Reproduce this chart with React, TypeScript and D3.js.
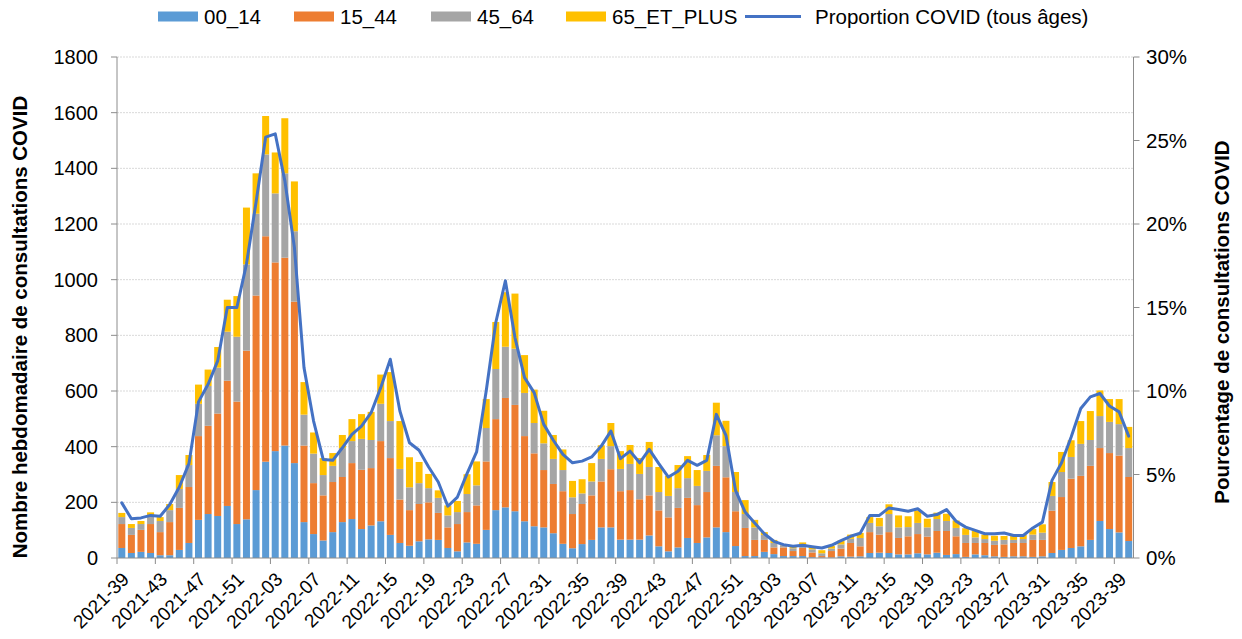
import React from "react";
import * as d3 from "d3";

// week categories 2021-39 .. 2023-40
const weekRanges: [number, number, number][] = [
  [2021, 39, 52],
  [2022, 1, 52],
  [2023, 1, 40],
];
const weeks: string[] = [];
weekRanges.forEach(([y, a, b]) => {
  for (let w = a; w <= b; w++) weeks.push(`${y}-${String(w).padStart(2, "0")}`);
});

const age00_14 = [
  36, 18, 22, 18, 10, 10, 29, 54, 137, 158, 151, 187, 122, 139, 244, 346, 384, 404, 341, 129,
  86, 63, 93, 129, 140, 104, 117, 132, 83, 54, 44, 60, 67, 65, 36, 24, 56, 51, 101, 172,
  182, 168, 132, 114, 110, 89, 51, 35, 50, 65, 110, 110, 66, 66, 66, 81, 42, 24, 38, 72,
  54, 74, 110, 93, 43, 7, 7, 22, 14, 7, 7, 7, 3, 2, 2, 6, 5, 6, 18, 19,
  18, 13, 13, 17, 13, 19, 11, 14, 4, 13, 10, 6, 4, 6, 6, 4, 6, 18, 29, 36,
  42, 65, 133, 104, 92, 61,
];
const age15_44 = [
  86, 65, 79, 104, 83, 119, 151, 201, 301, 317, 368, 450, 440, 606, 699, 810, 678, 675, 580, 275,
  183, 162, 180, 162, 201, 213, 206, 288, 276, 156, 128, 134, 133, 97, 74, 98, 109, 138, 246, 327,
  393, 382, 306, 262, 206, 177, 189, 123, 144, 160, 165, 209, 174, 178, 145, 144, 129, 122, 142, 144,
  136, 163, 221, 197, 125, 101, 58, 43, 24, 31, 18, 29, 17, 5, 23, 28, 49, 36, 75, 65,
  75, 59, 65, 69, 64, 78, 86, 64, 50, 41, 44, 41, 45, 48, 48, 61, 59, 152, 190, 249,
  253, 266, 262, 273, 276, 230,
];
const age45_64 = [
  25, 25, 21, 29, 40, 43, 68, 79, 116, 143, 165, 176, 233, 310, 294, 294, 248, 303, 253, 111,
  106, 73, 58, 104, 79, 111, 101, 134, 133, 110, 82, 75, 51, 54, 43, 43, 65, 72, 120, 180,
  184, 202, 155, 109, 96, 90, 76, 60, 38, 50, 81, 83, 80, 94, 91, 102, 66, 77, 71, 71,
  69, 76, 110, 112, 69, 50, 45, 18, 16, 8, 10, 14, 11, 10, 9, 15, 15, 30, 33, 30,
  65, 38, 33, 40, 33, 43, 36, 30, 29, 20, 14, 15, 16, 11, 14, 19, 26, 53, 90, 78,
  115, 93, 115, 112, 113, 104,
];
const age65plus = [
  15, 14, 11, 13, 14, 22, 50, 36, 69, 59, 74, 115, 146, 204, 145, 138, 147, 198, 179, 117,
  76, 61, 46, 47, 79, 89, 101, 105, 176, 172, 108, 76, 51, 27, 36, 40, 71, 86, 104, 169,
  196, 198, 136, 120, 117, 86, 74, 59, 51, 66, 49, 83, 64, 68, 57, 90, 90, 72, 83, 79,
  57, 57, 117, 91, 72, 50, 27, 10, 11, 4, 9, 6, 10, 11, 9, 14, 15, 18, 21, 30,
  35, 43, 39, 45, 31, 23, 26, 27, 24, 24, 16, 18, 14, 14, 16, 20, 30, 50, 72, 60,
  82, 104, 92, 82, 90, 76,
];
// proportion COVID, tous âges (%)
const proportionCovid = [
  3.3, 2.35, 2.4, 2.55, 2.5, 3.2, 4.25, 5.65, 9.35, 10.4, 11.8, 15.0, 15.0, 17.6, 21.3, 25.2, 25.4, 22.6, 18.6, 11.4,
  8.2, 5.9, 5.85, 6.6, 7.4, 7.9, 8.7, 10.2, 11.9, 8.8, 6.9, 6.45, 5.45, 4.55, 3.1, 3.65, 5.05, 6.35, 10.0, 14.1,
  16.6, 13.2, 10.8, 9.9, 8.0, 7.05, 6.2, 5.7, 5.8, 6.05, 6.7, 7.6, 5.95, 6.4, 5.7, 6.5, 5.65, 4.85, 5.2, 5.85,
  5.55, 5.85, 8.6, 7.35, 4.05, 2.75, 2.1, 1.45, 1.0, 0.8, 0.7, 0.76, 0.68, 0.6, 0.76, 1.04, 1.3, 1.48, 2.55, 2.55,
  3.0, 2.9, 2.8, 2.95, 2.5, 2.6, 2.9, 2.2, 1.85, 1.65, 1.45, 1.45, 1.5, 1.35, 1.35, 1.8, 2.15, 4.65, 5.7, 7.25,
  8.95, 9.65, 9.85, 9.1, 8.75, 7.3,
];

const seriesNames = ["00_14", "15_44", "45_64", "65_ET_PLUS"];
const seriesColors = ["#5B9BD5", "#ED7D31", "#A5A5A5", "#FFC000"];
const lineName = "Proportion COVID (tous âges)";
const lineColor = "#4472C4";
const leftTicks = [0, 200, 400, 600, 800, 1000, 1200, 1400, 1600, 1800];
const rightTicks = [0, 5, 10, 15, 20, 25, 30];
const labelEvery = 4;

const W = 1242;
const H = 639;
const m = { left: 117, right: 1133.5, top: 57, bottom: 558 };
const font = "'Liberation Sans', Arial, sans-serif";

export default function App() {
  const rows = weeks.map((w, i) => ({
    week: w,
    "00_14": age00_14[i],
    "15_44": age15_44[i],
    "45_64": age45_64[i],
    "65_ET_PLUS": age65plus[i],
  }));
  const stacked = d3.stack<any>().keys(seriesNames)(rows);

  const x = d3
    .scaleBand<string>()
    .domain(weeks)
    .range([m.left, m.right])
    .paddingInner(0.27)
    .paddingOuter(0.135);
  const step = x.step();
  const y = d3.scaleLinear().domain([0, 1800]).range([m.bottom, m.top]);
  const y2 = d3.scaleLinear().domain([0, 30]).range([m.bottom, m.top]);

  const line = d3
    .line<number>()
    .x((_, i) => (x(weeks[i]) as number) + x.bandwidth() / 2)
    .y((d) => y2(d));

  const boundary = (i: number) => m.left + i * step;
  const labelIdx = weeks.map((_, i) => i).filter((i) => i % labelEvery === 0);

  const legendItems = [
    { x: 158, label: seriesNames[0], color: seriesColors[0] },
    { x: 294, label: seriesNames[1], color: seriesColors[1] },
    { x: 431, label: seriesNames[2], color: seriesColors[2] },
    { x: 566, label: seriesNames[3], color: seriesColors[3] },
  ];

  return (
    <svg
      width={W}
      height={H}
      style={{ position: "absolute", left: 0, top: 0, background: "#fff" }}
      fontFamily={font}
    >
      {/* gridlines */}
      {leftTicks.slice(1).map((t) => (
        <line key={t} x1={m.left} x2={m.right} y1={y(t)} y2={y(t)} stroke="#d9d9d9" strokeWidth={1} strokeDasharray="2,1" />
      ))}

      {/* bars */}
      {stacked.map((s, si) => (
        <g key={s.key} fill={seriesColors[si]}>
          {s.map((d, i) => (
            <rect
              key={i}
              x={x(weeks[i])}
              width={x.bandwidth()}
              y={y(d[1])}
              height={Math.max(0, y(d[0]) - y(d[1]))}
            />
          ))}
        </g>
      ))}

      {/* line */}
      <path d={line(proportionCovid) || ""} fill="none" stroke={lineColor} strokeWidth={3} strokeLinejoin="round" strokeLinecap="round" />

      {/* axes */}
      <g stroke="#8c8c8c" strokeWidth={1}>
        <line x1={m.left} x2={m.left} y1={m.top} y2={m.bottom} />
        <line x1={m.right} x2={m.right} y1={m.top} y2={m.bottom} />
        <line x1={m.left} x2={m.right} y1={m.bottom} y2={m.bottom} />
        {leftTicks.map((t) => (
          <line key={"l" + t} x1={m.left - 6} x2={m.left} y1={y(t)} y2={y(t)} />
        ))}
        {rightTicks.map((t) => (
          <line key={"r" + t} x1={m.right} x2={m.right + 6} y1={y2(t)} y2={y2(t)} />
        ))}
        {labelIdx.map((i) => (
          <line key={"x" + i} x1={boundary(i)} x2={boundary(i)} y1={m.bottom} y2={m.bottom + 6} />
        ))}
      </g>

      {/* left tick labels */}
      {leftTicks.map((t) => (
        <text key={"lt" + t} x={98} y={y(t)} dy="0.35em" textAnchor="end" fontSize={20} fill="#000">
          {t}
        </text>
      ))}
      {/* right tick labels */}
      {rightTicks.map((t) => (
        <text key={"rt" + t} x={1146} y={y2(t)} dy="0.35em" textAnchor="start" fontSize={20.5} fill="#000">
          {t + "%"}
        </text>
      ))}
      {/* x labels */}
      {labelIdx.map((i) => {
        const cx = (x(weeks[i]) as number) + x.bandwidth() / 2;
        return (
          <text
            key={"xl" + i}
            transform={`translate(${cx - 1},${m.bottom + 13}) rotate(-45)`}
            textAnchor="end"
            dy="0.7em"
            fontSize={19}
            fill="#000"
          >
            {weeks[i]}
          </text>
        );
      })}

      {/* axis titles */}
      <text
        transform={`translate(27,327) rotate(-90)`}
        textAnchor="middle"
        fontSize={20.5}
        fontWeight="bold"
        fill="#000"
      >
        Nombre hebdomadaire de consultations COVID
      </text>
      <text
        transform={`translate(1229,322) rotate(-90)`}
        textAnchor="middle"
        fontSize={20.5}
        fontWeight="bold"
        fill="#000"
      >
        Pourcentage de consultations COVID
      </text>

      {/* legend */}
      {legendItems.map((l) => (
        <g key={l.label}>
          <rect x={l.x} y={11.5} width={40} height={10} fill={l.color} />
          <text x={l.x + 46} y={16.5} dy="0.36em" fontSize={20.5} fill="#000">
            {l.label}
          </text>
        </g>
      ))}
      <line x1={745} x2={801} y1={16.5} y2={16.5} stroke={lineColor} strokeWidth={3} />
      <text x={815} y={16.5} dy="0.36em" fontSize={20.5} fill="#000">
        {lineName}
      </text>
    </svg>
  );
}
